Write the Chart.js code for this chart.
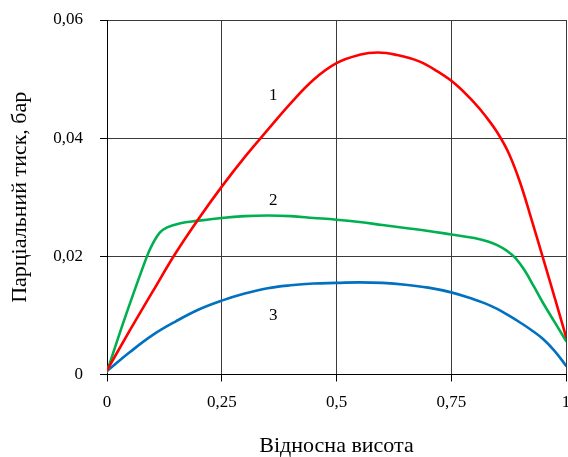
<!DOCTYPE html>
<html>
<head>
<meta charset="utf-8">
<script src="https://cdn.jsdelivr.net/npm/chart.js@4/dist/chart.umd.min.js"></script>
<style>
html,body{margin:0;padding:0;background:#fff;}
#wrap{width:568px;height:457px;position:relative;}
</style>
</head>
<body>
<div id="wrap"><canvas id="c" width="568" height="457"></canvas></div>
<script>
// ---- data ----
const xTicks = [0, 0.25, 0.5, 0.75, 1];
const yTicks = [0, 0.02, 0.04, 0.06];

const series1X = [0, 0.05, 0.1, 0.15, 0.2, 0.25, 0.3, 0.35, 0.4, 0.45, 0.5, 0.55, 0.59, 0.63, 0.68, 0.72, 0.76, 0.8, 0.825, 0.85, 0.875, 0.9, 0.925, 0.95, 0.975, 1];
const series1Y = [0.0007, 0.0075, 0.0141, 0.0206, 0.0264, 0.0318, 0.0368, 0.0414, 0.0459, 0.0499, 0.0527, 0.0541, 0.0545, 0.0541, 0.0530, 0.0513, 0.0491, 0.0460, 0.0437, 0.0410, 0.0375, 0.0325, 0.0262, 0.0197, 0.0131, 0.0064];

const series2X = [0, 0.04, 0.087, 0.1, 0.115, 0.131, 0.16, 0.196, 0.25, 0.3, 0.35, 0.4, 0.45, 0.5, 0.55, 0.6, 0.65, 0.7, 0.75, 0.8, 0.83, 0.85, 0.87, 0.89, 0.91, 0.93, 0.95, 0.975, 1];
const series2Y = [0.0005, 0.0098, 0.0200, 0.0222, 0.0240, 0.0249, 0.0256, 0.0260, 0.0265, 0.0268, 0.0269, 0.0268, 0.0265, 0.0262, 0.0258, 0.0253, 0.0248, 0.0243, 0.0237, 0.0231, 0.0225, 0.0219, 0.0210, 0.0197, 0.0176, 0.0149, 0.0121, 0.0089, 0.0057];

const series3X = [0, 0.05, 0.1, 0.15, 0.2, 0.25, 0.3, 0.35, 0.4, 0.45, 0.5, 0.55, 0.6, 0.65, 0.7, 0.75, 0.8, 0.825, 0.85, 0.875, 0.9, 0.925, 0.95, 0.975, 1];
const series3Y = [0.0006, 0.0038, 0.0067, 0.0090, 0.0110, 0.0125, 0.0137, 0.0146, 0.0151, 0.0154, 0.0155, 0.0156, 0.0155, 0.0152, 0.0147, 0.0139, 0.0127, 0.0120, 0.0111, 0.0100, 0.0088, 0.0075, 0.0060, 0.0040, 0.0015];

const seriesNames = ['1', '2', '3'];
const seriesColors = ['#ff0000', '#00b050', '#0070c0'];
const labelX = [0.362, 0.362, 0.362];
const labelY = [0.0472, 0.0294, 0.0100];

const xTitle = 'Відносна висота';
const yTitle = 'Парціальний тиск, бар';

function pts(xs, ys){ return xs.map((x,i)=>({x:x, y:ys[i]})); }
function fmt(v){ return String(Math.round(v*100)/100).replace('.', ','); }

const labelPlugin = {
  id: 'curveLabels',
  afterDatasetsDraw(chart){
    const ctx = chart.ctx, xs = chart.scales.x, ys = chart.scales.y;
    ctx.save();
    ctx.font = '17px "Liberation Serif", "Times New Roman", serif';
    ctx.fillStyle = '#000';
    ctx.textAlign = 'center';
    ctx.textBaseline = 'middle';
    seriesNames.forEach((n,i)=>{
      ctx.fillText(n, xs.getPixelForValue(labelX[i]), ys.getPixelForValue(labelY[i]));
    });
    ctx.restore();
  }
};

const serif = '"Liberation Serif", "Times New Roman", serif';

new Chart(document.getElementById('c'), {
  type: 'line',
  data: {
    datasets: [
      {label: seriesNames[0], data: pts(series1X, series1Y), borderColor: seriesColors[0]},
      {label: seriesNames[1], data: pts(series2X, series2Y), borderColor: seriesColors[1]},
      {label: seriesNames[2], data: pts(series3X, series3Y), borderColor: seriesColors[2]}
    ].map(d => Object.assign(d, {borderWidth: 2.6, pointRadius: 0, fill: false, tension: 0.4, borderJoinStyle: 'round', borderCapStyle: 'round'}))
  },
  options: {
    responsive: false,
    animation: false,
    devicePixelRatio: 1,
    layout: {padding: {top: 20, right: 2, left: 0, bottom: 0}},
    plugins: {legend: {display: false}, tooltip: {enabled: false}},
    scales: {
      x: {
        type: 'linear', min: 0, max: 1,
        afterBuildTicks(s){ s.ticks = xTicks.map(v=>({value: v})); },
        afterFit(s){ s.height = 82.5; s.paddingLeft = 0; s.paddingRight = 0; },
        border: {color: '#000', width: 1},
        grid: {color: '#3a3a3a', lineWidth: 1, tickLength: 7, tickColor: '#000'},
        ticks: {color: '#000', font: {family: serif, size: 17}, padding: 11, maxRotation: 0, callback: v => fmt(v)},
        title: {display: true, text: xTitle, color: '#000', font: {family: serif, size: 22, lineHeight: 1}, padding: {top: 0, bottom: 0}}
      },
      y: {
        type: 'linear', min: 0, max: 0.06,
        afterBuildTicks(s){ s.ticks = yTicks.map(v=>({value: v})); },
        afterFit(s){ s.width = 107; s.paddingTop = 0; s.paddingBottom = 0; },
        border: {color: '#000', width: 1},
        grid: {color: '#3a3a3a', lineWidth: 1, tickLength: 7, tickColor: '#000'},
        ticks: {color: '#000', font: {family: serif, size: 17}, padding: 17, callback: v => fmt(v)},
        title: {display: true, text: yTitle, color: '#000', font: {family: serif, size: 22, lineHeight: 1}, padding: {top: 9, bottom: 0}}
      }
    }
  },
  plugins: [labelPlugin]
});
</script>
</body>
</html>
